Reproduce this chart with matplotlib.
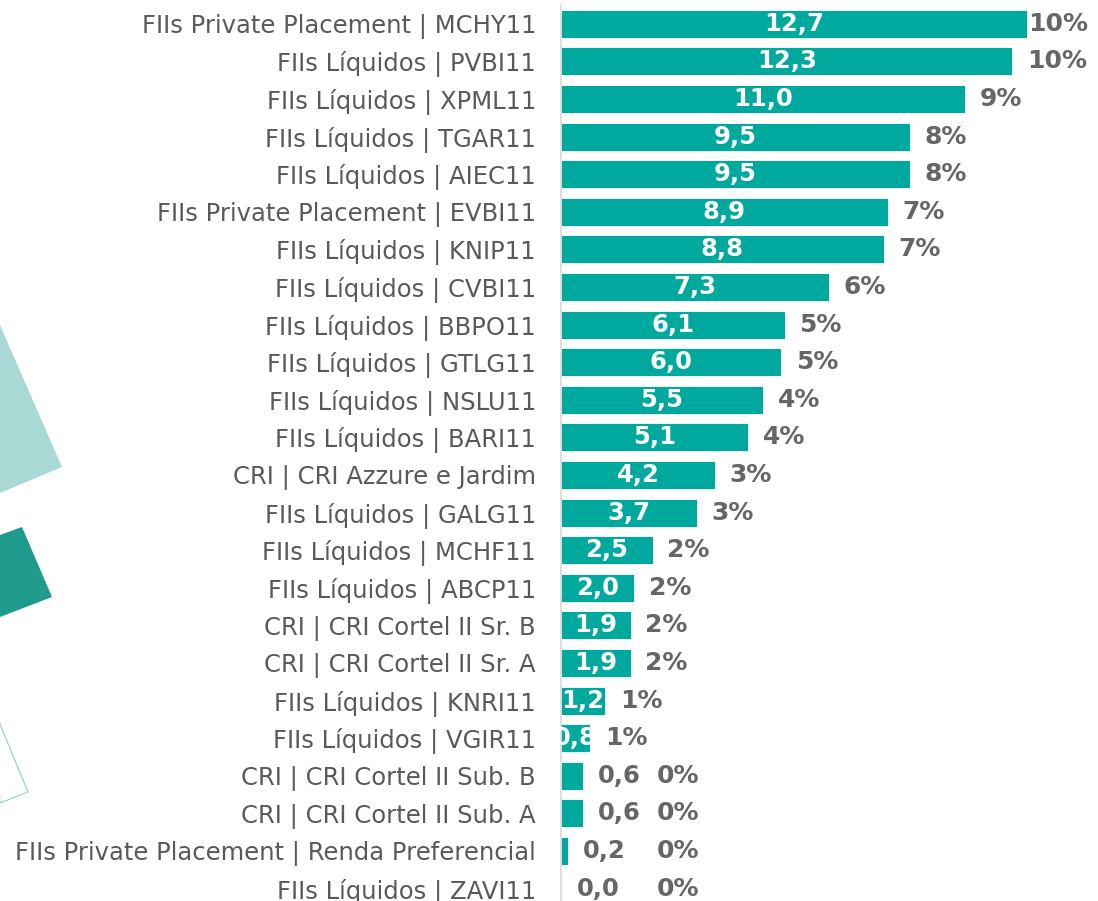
import matplotlib
matplotlib.use("Agg")
import matplotlib.pyplot as plt
from matplotlib.patches import Polygon

labels = [
    "FIIs Private Placement | MCHY11",
    "FIIs Líquidos | PVBI11",
    "FIIs Líquidos | XPML11",
    "FIIs Líquidos | TGAR11",
    "FIIs Líquidos | AIEC11",
    "FIIs Private Placement | EVBI11",
    "FIIs Líquidos | KNIP11",
    "FIIs Líquidos | CVBI11",
    "FIIs Líquidos | BBPO11",
    "FIIs Líquidos | GTLG11",
    "FIIs Líquidos | NSLU11",
    "FIIs Líquidos | BARI11",
    "CRI | CRI Azzure e Jardim",
    "FIIs Líquidos | GALG11",
    "FIIs Líquidos | MCHF11",
    "FIIs Líquidos | ABCP11",
    "CRI | CRI Cortel II Sr. B",
    "CRI | CRI Cortel II Sr. A",
    "FIIs Líquidos | KNRI11",
    "FIIs Líquidos | VGIR11",
    "CRI | CRI Cortel II Sub. B",
    "CRI | CRI Cortel II Sub. A",
    "FIIs Private Placement | Renda Preferencial",
    "FIIs Líquidos | ZAVI11",
]
values = [12.7, 12.3, 11.0, 9.5, 9.5, 8.9, 8.8, 7.3, 6.1, 6.0, 5.5, 5.1,
          4.2, 3.7, 2.5, 2.0, 1.9, 1.9, 1.2, 0.8, 0.6, 0.6, 0.2, 0.04]
shares = [10, 10, 9, 8, 8, 7, 7, 6, 5, 5, 4, 4, 3, 3, 2, 2, 2, 2, 1, 1, 0, 0, 0, 0]

bar_color = "#00a99d"
label_gray = "#595959"
pct_gray = "#666666"

W, H = 1098, 901
fig = plt.figure(figsize=(W / 100, H / 100), dpi=100)

# decorative shapes on the left (figure pixel coords, y from top)
def fig_poly(pts, **kw):
    xy = [(x / W, 1 - y / H) for x, y in pts]
    fig.patches.append(Polygon(xy, closed=True, transform=fig.transFigure, **kw))

fig_poly([(0, 325), (62, 467), (0, 493)], facecolor="#a8d9d4", edgecolor="none")
fig_poly([(0, 535), (22, 527), (52, 597), (0, 617)], facecolor="#1f9b8e", edgecolor="none")
fig_poly([(-5, 712), (28, 792), (0, 803)], facecolor="none", edgecolor="#8fd0c9", linewidth=0.8)

ax = fig.add_axes([561 / W, 0, 537 / W, 896 / H])
ypos = list(range(len(values)))
bars = ax.barh(ypos, values, height=0.745, color=bar_color, edgecolor="white", linewidth=0.6)

ax.set_xlim(0, 537 / 36.7)
ax.set_ylim(-0.5 + 896 / 37.6, -0.5)

for b, v, s in zip(bars, values, shares):
    y = b.get_y() + b.get_height() / 2
    txt = ("%.1f" % v).replace(".", ",")
    if v >= 0.7:
        t = ax.text(v / 2, y, txt, ha="center", va="center", color="white",
                    fontsize=17.5, fontweight="bold")
        t.set_clip_path(b)
        px = min(v + 0.4, 12.72)
    else:
        ax.text(v + 0.4, y, txt, ha="left", va="center", color=pct_gray,
                fontsize=17.5, fontweight="bold")
        px = 2.6
    ax.text(px, y, "%d%%" % s, ha="left", va="center", color=pct_gray,
            fontsize=18, fontweight="bold", clip_on=False)

ax.set_yticks(ypos)
ax.set_yticklabels(labels, fontsize=17.5, color=label_gray)
ax.tick_params(axis="y", length=0, pad=18)
ax.set_xticks([])
for sp in ["top", "right", "bottom"]:
    ax.spines[sp].set_visible(False)
ax.spines["left"].set_color("#d9d9d9")
ax.spines["left"].set_linewidth(1.2)

fig.savefig("out.png", dpi=100)
